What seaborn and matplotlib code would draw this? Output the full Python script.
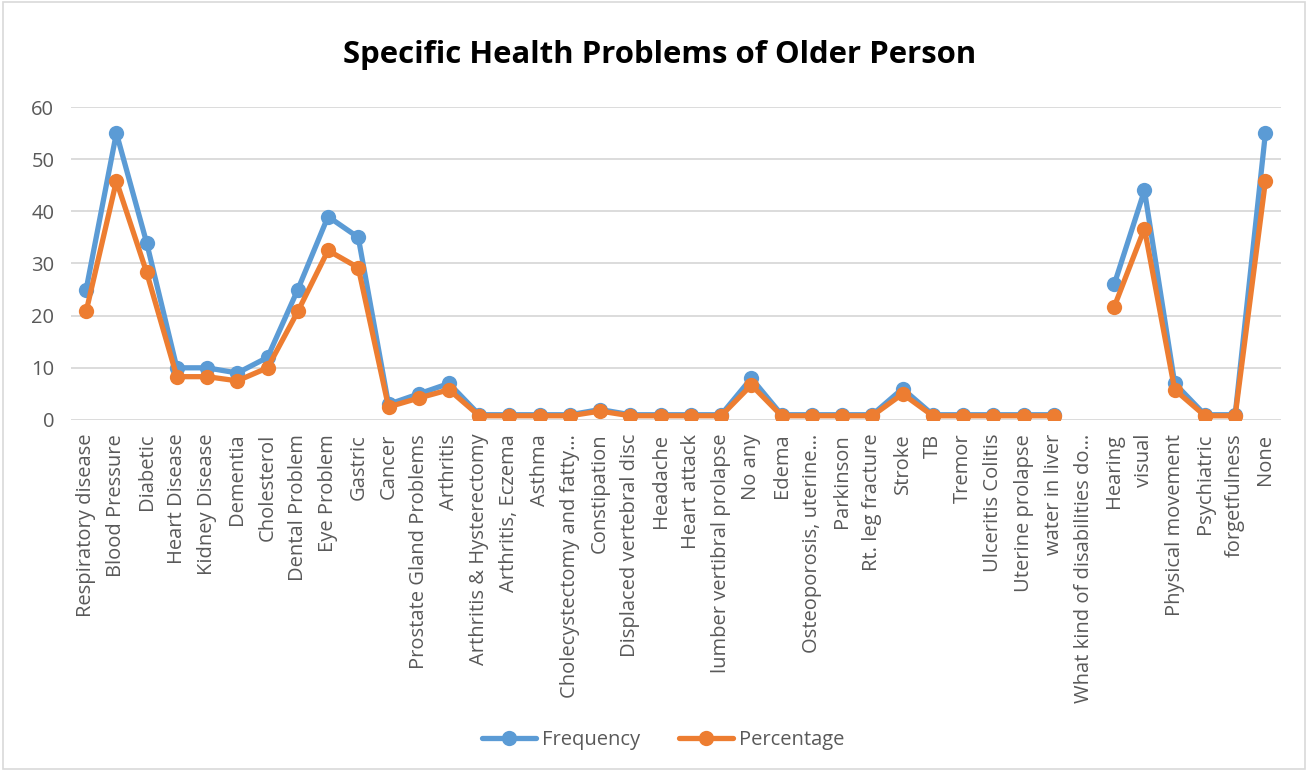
import numpy as np
import pandas as pd
import matplotlib
matplotlib.use("Agg")
import matplotlib.pyplot as plt
import seaborn as sns

categories = [
    "Respiratory disease", "Blood Pressure", "Diabetic", "Heart Disease",
    "Kidney Disease", "Dementia", "Cholesterol", "Dental Problem",
    "Eye Problem", "Gastric", "Cancer", "Prostate Gland Problems",
    "Arthritis", "Arthritis & Hysterectomy", "Arthritis, Eczema", "Asthma",
    "Cholecystectomy and fatty…", "Constipation", "Displaced vertebral disc",
    "Headache", "Heart attack", "lumber vertibral prolapse", "No any",
    "Edema", "Osteoporosis, uterine…", "Parkinson", "Rt. leg fracture",
    "Stroke", "TB", "Tremor", "Ulceritis Colitis", "Uterine prolapse",
    "water in liver", "What kind of disabilities do…", "Hearing", "visual",
    "Physical movement", "Psychiatric", "forgetfulness", "None",
]

frequency = [
    25, 55, 34, 10, 10, 9, 12, 25, 39, 35, 3, 5, 7, 1, 1, 1, 1, 2, 1, 1,
    1, 1, 8, 1, 1, 1, 1, 6, 1, 1, 1, 1, 1, np.nan, 26, 44, 7, 1, 1, 55,
]

percentage = [
    20.8, 45.8, 28.3, 8.3, 8.3, 7.5, 10.0, 20.8, 32.5, 29.2, 2.5, 4.2, 5.8,
    0.8, 0.8, 0.8, 0.8, 1.7, 0.8, 0.8, 0.8, 0.8, 6.7, 0.8, 0.8, 0.8, 0.8,
    5.0, 0.8, 0.8, 0.8, 0.8, 0.8, np.nan, 21.7, 36.7, 5.8, 0.8, 0.8, 45.8,
]

series_names = ["Frequency", "Percentage"]
palette = {"Frequency": "#5B9BD5", "Percentage": "#ED7D31"}
y_ticks = [0, 10, 20, 30, 40, 50, 60]

# Long-form table; a new segment starts after each missing value so the
# line breaks there instead of bridging the gap.
rows = []
for name, vals in zip(series_names, [frequency, percentage]):
    seg = 0
    for i, v in enumerate(vals):
        if np.isnan(v):
            seg += 1
            continue
        rows.append({"pos": i, "value": v, "series": name, "segment": seg})
df = pd.DataFrame(rows)

sns.set_theme(style="white")
plt.rcParams["font.family"] = ["Open Sans", "DejaVu Sans"]

LABEL_SIZE = 14.5
MS = 11
LW = 3.8

fig = plt.figure(figsize=(13.08, 7.71), dpi=100)
ax = fig.add_axes([0.0543, 0.4553, 0.9247, 0.4059])

sns.lineplot(
    data=df, x="pos", y="value", hue="series", units="segment",
    estimator=None, palette=palette, hue_order=series_names,
    marker="o", markersize=MS, markeredgewidth=0, linewidth=LW,
    ax=ax, legend=False,
)

ax.set_xlim(-0.5, len(categories) - 0.5)
ax.set_ylim(0, 60)
ax.set_yticks(y_ticks)
ax.set_xticks(range(len(categories)))
ax.set_xticklabels(categories, rotation=90, fontsize=LABEL_SIZE, color="#595959")
ax.tick_params(axis="y", labelsize=LABEL_SIZE, labelcolor="#595959", length=0, pad=12)
ax.tick_params(axis="x", length=0, pad=10)
ax.set_xlabel("")
ax.set_ylabel("")
ax.grid(axis="y", color="#D9D9D9", linewidth=1.3)
ax.set_axisbelow(True)
for s in ax.spines.values():
    s.set_visible(False)

fig.suptitle("Specific Health Problems of Older Person", x=0.504, y=0.948,
             fontsize=22.4, fontweight="bold", color="black")

handles = [
    plt.Line2D([], [], color=palette[n], marker="o", markersize=MS,
               markeredgewidth=0, linewidth=LW, label=n)
    for n in series_names
]
fig.legend(handles=handles, loc="center", bbox_to_anchor=(0.507, 0.04),
           ncol=2, frameon=False, fontsize=LABEL_SIZE, labelcolor="#595959",
           handlelength=2.7, columnspacing=1.9, handletextpad=0.3)

fig.patches.append(plt.Rectangle((0.002, 0.002), 0.996, 0.996,
                                 transform=fig.transFigure, fill=False,
                                 edgecolor="#D9D9D9", linewidth=1.2))

fig.savefig("out.png", dpi=100, facecolor="white")
